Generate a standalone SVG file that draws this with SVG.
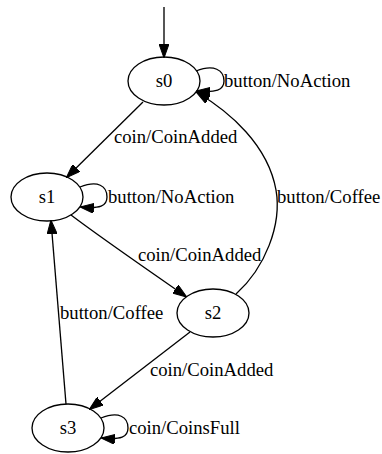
<svg xmlns="http://www.w3.org/2000/svg" width="382" height="454" viewBox="0 0 382 454">
<style>
text{font-family:"Liberation Serif","Times New Roman",serif;font-size:18.67px;fill:#000}
.n ellipse{fill:none;stroke:#000;stroke-width:1.33}
.n text{text-anchor:middle}
.e path{fill:none;stroke:#000;stroke-width:1.33;marker-end:url(#ah)}
</style>
<defs>
<marker id="ah" viewBox="0 0 14 10" refX="13" refY="5" markerWidth="14" markerHeight="10" markerUnits="userSpaceOnUse" orient="auto">
<path d="M0,0 L14,5 L0,10 z" fill="#000" stroke="#000" stroke-width="1"/>
</marker>
</defs>
<g id="edges" class="e">
<path d="M164,7 L164,57"/>
<path d="M196,71 C214,64 224,70 224,81 C224,90 216,93 197,91"/>
<path d="M143,102 L67,177"/>
<path d="M80,187 C98,180 107,186 107,197 C107,206 100,209 81,207"/>
<path d="M71,215 C100,237 145,268 186,296.5"/>
<path d="M236,294 C265,268 282,225 276,190 C268,145 230,112 197,92.5"/>
<path d="M190,332 L90,409"/>
<path d="M66,404 L51,221"/>
<path d="M101,418 C119,411 128,417 128,428 C128,437 121,440 102,438"/>
</g>
<g id="labels">
<text x="224" y="87">button/NoAction</text>
<text x="114" y="143">coin/CoinAdded</text>
<text x="108" y="203">button/NoAction</text>
<text x="277" y="203">button/Coffee</text>
<text x="138" y="261">coin/CoinAdded</text>
<text x="60" y="319">button/Coffee</text>
<text x="150" y="376">coin/CoinAdded</text>
<text x="129" y="434">coin/CoinsFull</text>
</g>
<g id="s0" class="n"><ellipse cx="164" cy="81" rx="36" ry="24"/><text x="164" y="87">s0</text></g>
<g id="s1" class="n"><ellipse cx="47" cy="197" rx="36" ry="24"/><text x="47" y="203">s1</text></g>
<g id="s2" class="n"><ellipse cx="213" cy="313" rx="36" ry="24"/><text x="213" y="319">s2</text></g>
<g id="s3" class="n"><ellipse cx="68" cy="428" rx="36" ry="24"/><text x="68" y="434">s3</text></g>
</svg>
